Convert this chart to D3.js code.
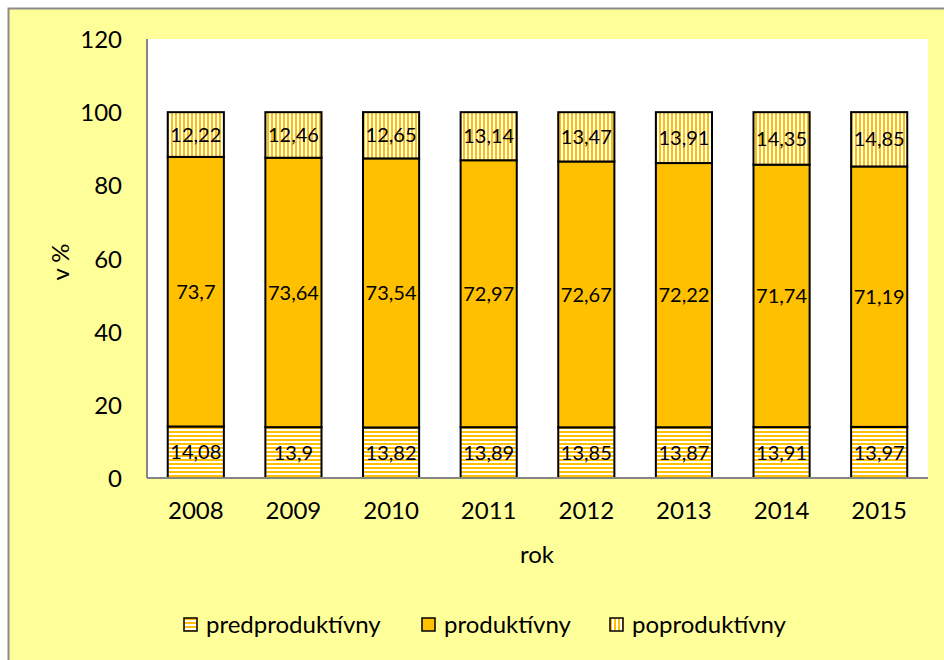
<!DOCTYPE html>
<html>
<head>
<meta charset="utf-8">
<script src="https://cdn.jsdelivr.net/npm/d3@7"></script>
<style>
  body { margin: 0; background: #fff; }
  text { font-family: Lato, "Open Sans", sans-serif; fill: #000; }
</style>
</head>
<body>
<div id="chart"></div>
<script>
// data
const years        = ['2008', '2009', '2010', '2011', '2012', '2013', '2014', '2015'];
const predprod     = [14.08, 13.9, 13.82, 13.89, 13.85, 13.87, 13.91, 13.97];
const prod         = [73.7, 73.64, 73.54, 72.97, 72.67, 72.22, 71.74, 71.19];
const poprod       = [12.22, 12.46, 12.65, 13.14, 13.47, 13.91, 14.35, 14.85];
const seriesNames  = ['predproduktívny', 'produktívny', 'poproduktívny'];
const yTicks       = [0, 20, 40, 60, 80, 100, 120];

const W = 944, H = 660;
const margin = { top: 39, right: 16, bottom: 182, left: 147 };
const width  = W - margin.left - margin.right;
const height = H - margin.top - margin.bottom;

const svg = d3.select('#chart').append('svg')
    .attr('width', W)
    .attr('height', H);

// patterns
const defs = svg.append('defs');
let ph = defs.append('pattern').attr('id', 'hstripe')
    .attr('patternUnits', 'userSpaceOnUse').attr('width', 4).attr('height', 4);
ph.append('rect').attr('width', 4).attr('height', 4).attr('fill', '#fff');
ph.append('rect').attr('width', 4).attr('height', 2).attr('fill', '#FFC000');

let pv = defs.append('pattern').attr('id', 'vstripe')
    .attr('patternUnits', 'userSpaceOnUse').attr('width', 4).attr('height', 4);
pv.append('rect').attr('width', 4).attr('height', 4).attr('fill', '#fff');
pv.append('rect').attr('width', 2).attr('height', 4).attr('fill', '#FFC000');

const fills = ['url(#hstripe)', '#FFC000', 'url(#vstripe)'];

// chart background + outer border
svg.append('rect')
    .attr('x', 8.5).attr('y', 8.5)
    .attr('width', W + 10).attr('height', H + 10)
    .attr('fill', '#FFFF99')
    .attr('stroke', '#8c8c8c').attr('stroke-width', 2);

const g = svg.append('g')
    .attr('transform', 'translate(' + margin.left + ',' + margin.top + ')');

g.append('rect').attr('width', width).attr('height', height).attr('fill', '#fff');

const x = d3.scaleBand().domain(years).range([0, width]).paddingInner(0.425).paddingOuter(0.2125);
const y = d3.scaleLinear().domain([0, 120]).range([height, 0]);

// stacked data
const rows = years.map((yr, i) => ({ year: yr, a: predprod[i], b: prod[i], c: poprod[i] }));
const stack = d3.stack().keys(['a', 'b', 'c'])(rows);

stack.forEach((layer, li) => {
  g.selectAll('.bar' + li)
      .data(layer)
    .enter().append('rect')
      .attr('class', 'bar' + li)
      .attr('x', (d) => x(d.data.year))
      .attr('y', (d) => y(d[1]))
      .attr('width', x.bandwidth())
      .attr('height', (d) => y(d[0]) - y(d[1]))
      .attr('fill', fills[li])
      .attr('stroke', '#000')
      .attr('stroke-width', 2);

  g.selectAll('.lab' + li)
      .data(layer)
    .enter().append('text')
      .attr('x', (d) => x(d.data.year) + x.bandwidth() / 2)
      .attr('y', (d) => (y(d[0]) + y(d[1])) / 2)
      .attr('dy', '0.36em')
      .attr('text-anchor', 'middle')
      .style('font-size', '20px')
      .text((d) => String(+(d[1] - d[0]).toFixed(2)).replace('.', ','));
});

// axes
g.append('line').attr('x1', 0).attr('x2', 0).attr('y1', 0).attr('y2', height)
    .attr('stroke', '#868686').attr('stroke-width', 2);
g.append('line').attr('x1', 0).attr('x2', width).attr('y1', height).attr('y2', height)
    .attr('stroke', '#868686').attr('stroke-width', 2);

const yAxis = g.append('g').call(d3.axisLeft(y).tickValues(yTicks).tickSize(0).tickPadding(25));
yAxis.select('.domain').remove();
yAxis.selectAll('text').style('font-size', '24px').attr('dy', '0.36em');

const xAxis = g.append('g')
    .attr('transform', 'translate(0,' + height + ')')
    .call(d3.axisBottom(x).tickSize(0).tickPadding(24));
xAxis.select('.domain').remove();
xAxis.selectAll('text').style('font-size', '24px');

// axis titles
svg.append('text')
    .attr('transform', 'translate(69,262) rotate(-90)')
    .attr('text-anchor', 'middle')
    .style('font-size', '24px')
    .text('v %');

svg.append('text')
    .attr('x', 537).attr('y', 563)
    .attr('text-anchor', 'middle')
    .style('font-size', '24px')
    .text('rok');

// legend
const legX = [184, 422, 610];
const leg = svg.selectAll('.leg').data(seriesNames).enter().append('g')
    .attr('transform', (d, i) => 'translate(' + legX[i] + ',618)');
leg.append('rect')
    .attr('width', 13).attr('height', 13)
    .attr('fill', (d, i) => fills[i])
    .attr('stroke', '#000').attr('stroke-width', 1.5);
leg.append('text')
    .attr('x', 22).attr('y', 6.5).attr('dy', '0.36em')
    .style('font-size', '24px')
    .text((d) => d);
</script>
</body>
</html>
